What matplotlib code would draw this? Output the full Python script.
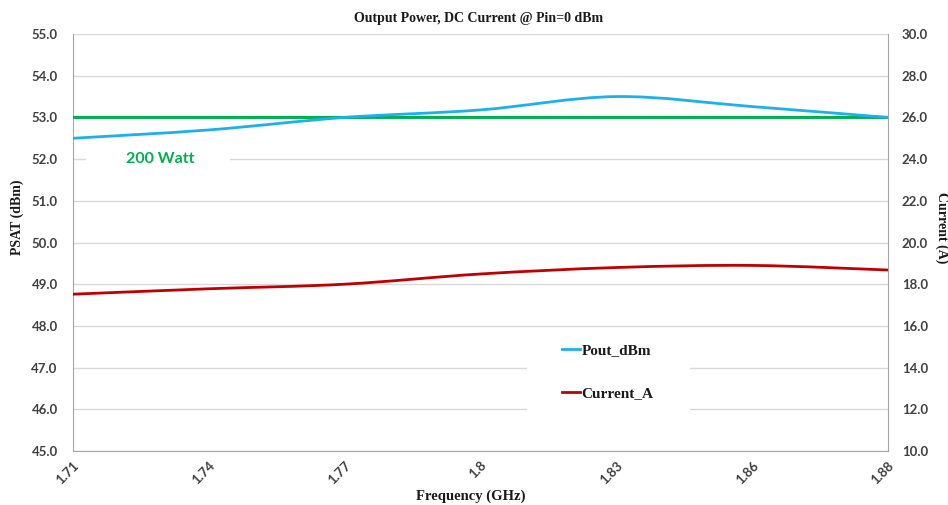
import matplotlib
matplotlib.use("Agg")
import matplotlib.pyplot as plt
import numpy as np
from matplotlib.path import Path
from matplotlib.patches import PathPatch, Rectangle
from matplotlib.lines import Line2D

# Dados
freq_labels = ["1.71", "1.74", "1.77", "1.8", "1.83", "1.86", "1.88"]
pout_dbm = [52.50, 52.70, 53.00, 53.18, 53.50, 53.26, 53.00]
ref_200w = [53.0, 53.0, 53.0, 53.0, 53.0, 53.0, 53.0]
current_a = [17.52, 17.78, 18.00, 18.49, 18.80, 18.90, 18.68]

COR_POUT = "#1eb0e8"
COR_CURR = "#c00000"
COR_REF = "#00b050"
COR_GRID = "#d9d9d9"
COR_TXT = "#404040"

SERIF = ["Liberation Serif", "DejaVu Serif"]
SANS = ["Lato", "DejaVu Sans"]


# Curva suavizada tipo Excel (Bezier de Catmull-Rom) desenhada no eixo
def curva_suave(ax, xs, ys, cor, lw=2.0, t=1 / 6):
    xs = np.asarray(xs, float)
    ys = np.asarray(ys, float)
    n = len(xs)
    verts = [(xs[0], ys[0])]
    codes = [Path.MOVETO]
    for i in range(n - 1):
        i0 = max(i - 1, 0)
        i3 = min(i + 2, n - 1)
        c1 = (xs[i] + (xs[i + 1] - xs[i0]) * t, ys[i] + (ys[i + 1] - ys[i0]) * t)
        c2 = (xs[i + 1] - (xs[i3] - xs[i]) * t, ys[i + 1] - (ys[i3] - ys[i]) * t)
        verts += [c1, c2, (xs[i + 1], ys[i + 1])]
        codes += [Path.CURVE4] * 3
    patch = PathPatch(Path(verts, codes), facecolor="none", edgecolor=cor,
                      linewidth=lw, transform=ax.transData, zorder=4,
                      capstyle="round")
    ax.add_patch(patch)


fig = plt.figure(figsize=(9.48, 5.05), dpi=100)
ax = fig.add_axes([0.077, 0.107, 0.8597, 0.8256])
ax2 = ax.twinx()

x = np.arange(len(freq_labels))

ax.set_xlim(0, len(freq_labels) - 1)
ax.set_ylim(45, 55)
ax2.set_ylim(10, 30)

ax.set_yticks(np.arange(45, 55.1, 1))
ax.set_yticklabels([f"{v:.1f}" for v in np.arange(45, 55.1, 1)])
ax2.set_yticks(np.arange(10, 30.1, 2))
ax2.set_yticklabels([f"{v:.1f}" for v in np.arange(10, 30.1, 2)])

ax.set_xticks(x)
ax.set_xticklabels(freq_labels, rotation=45, ha="right", rotation_mode="anchor")

ax.grid(axis="y", color=COR_GRID, linewidth=1.0)
ax.set_axisbelow(True)

for a in (ax, ax2):
    a.tick_params(length=0, labelsize=9.5, colors=COR_TXT)
    for s in a.spines.values():
        s.set_visible(False)
    for lab in a.get_yticklabels() + a.get_xticklabels():
        lab.set_family(SANS)
        lab.set_fontweight("bold")
ax.tick_params(axis="y", pad=11)
ax2.tick_params(axis="y", pad=10)
ax.tick_params(axis="x", pad=6)

ax.spines["left"].set_visible(True)
ax.spines["left"].set_color("#a6a6a6")
ax.spines["bottom"].set_visible(True)
ax.spines["bottom"].set_color("#a6a6a6")
ax2.spines["right"].set_visible(True)
ax2.spines["right"].set_color("#a6a6a6")

# Linhas
curva_suave(ax, x, ref_200w, COR_REF, lw=2.2)
curva_suave(ax, x, pout_dbm, COR_POUT, lw=2.0)
curva_suave(ax2, x, current_a, COR_CURR, lw=2.0)

# Texto 200 Watt com fundo branco
ax.fill_between([0.096, 1.156], 51.85, 52.15, color="white", zorder=2, linewidth=0)
ax.text(0.39, 52.0, "200 Watt", color=COR_REF, fontsize=11.5, fontweight="bold",
        family=SANS, va="center", ha="left", zorder=5)

# Fundo branco da legenda (cobre a grade)
ax.add_patch(Rectangle((0.557, 0.086), 0.2, 0.204, transform=ax.transAxes,
                       facecolor="white", edgecolor="none", zorder=2))

# Legenda
handles = [Line2D([], [], color=COR_POUT, lw=2.0),
           Line2D([], [], color=COR_CURR, lw=2.0)]
leg = ax2.legend(handles, ["Pout_dBm", "Current_A"], loc="center",
                 bbox_to_anchor=(0.656, 0.19), frameon=True, fancybox=False,
                 edgecolor="white", facecolor="white", framealpha=1,
                 handlelength=1.2, handletextpad=0.1, labelspacing=1.9,
                 borderpad=1.0, borderaxespad=0,
                 prop={"family": SERIF, "weight": "bold", "size": 11})
leg.get_frame().set_linewidth(0)
for txt in leg.get_texts():
    txt.set_color("#1a1a1a")

# Títulos
fig.text(0.505, 0.963, "Output Power, DC Current @ Pin=0 dBm", ha="center",
         va="center", fontsize=10, fontweight="bold", family=SERIF, color="#1a1a1a")
fig.text(0.497, 0.017, "Frequency (GHz)", ha="center", va="center",
         fontsize=10.5, fontweight="bold", family=SERIF, color="#1a1a1a")
fig.text(0.018, 0.57, "PSAT (dBm)", ha="center", va="center", rotation=90,
         fontsize=10, fontweight="bold", family=SERIF, color="#1a1a1a")
fig.text(0.993, 0.55, "Current (A)", ha="center", va="center", rotation=270,
         fontsize=10, fontweight="bold", family=SERIF, color="#1a1a1a")

fig.savefig("out.png", dpi=100, facecolor="white")
